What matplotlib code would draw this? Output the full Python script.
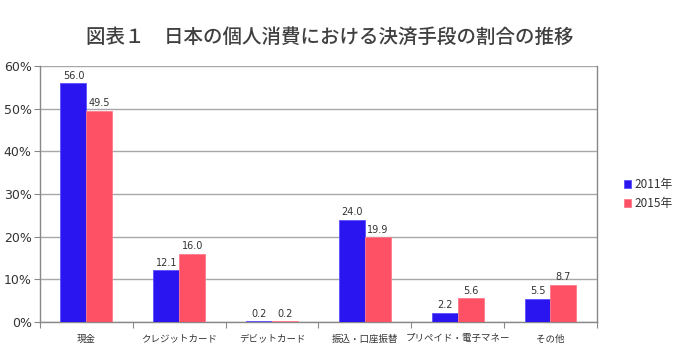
import numpy as np
import matplotlib
matplotlib.use("Agg")
import matplotlib.pyplot as plt

plt.rcParams['font.family'] = ['Noto Sans CJK JP', 'DejaVu Sans']

categories = ['現金', 'クレジットカード', 'デビットカード', '振込・口座振替', 'プリペイド・電子マネー', 'その他']
share_2011 = [56.0, 12.1, 0.2, 24.0, 2.2, 5.5]
share_2015 = [49.5, 16.0, 0.2, 19.9, 5.6, 8.7]
series_names = ['2011年', '2015年']

blue = '#2A14F0'
red = '#FF5166'
text_col = '#333333'

fig = plt.figure(figsize=(6.75, 3.5), dpi=100)
ax = fig.add_axes([0.0593, 0.08, 0.825, 0.731])

x = np.arange(len(categories))
w = 0.28
b1 = ax.bar(x - w / 2, share_2011, w, color=blue, edgecolor='#5A50FF', linewidth=0.6,
            label=series_names[0], zorder=3)
b2 = ax.bar(x + w / 2, share_2015, w, color=red, edgecolor='#FF7A8A', linewidth=0.6,
            label=series_names[1], zorder=3)

# 棒の上に値ラベル
for bars, vals in ((b1, share_2011), (b2, share_2015)):
    for r, v in zip(bars, vals):
        ax.text(r.get_x() + r.get_width() / 2, v + 0.6, f'{v:.1f}', ha='center', va='bottom',
                fontsize=7, color=text_col, family='DejaVu Sans')

ax.set_xlim(-0.5, len(categories) - 0.5)
ax.set_ylim(0, 60)
ax.set_yticks(range(0, 61, 10))
ax.set_yticklabels([f'{t}%' for t in range(0, 61, 10)], fontsize=9, color=text_col,
                   family='DejaVu Sans')
ax.yaxis.grid(True, color='#A8A8A8', linewidth=1.0, zorder=0)

# 区切り目盛りは主目盛り、カテゴリ名は副目盛りに置く
ax.set_xticks(np.arange(len(categories) + 1) - 0.5, minor=False)
ax.set_xticklabels([])
ax.set_xticks(x, minor=True)
ax.set_xticklabels(categories, minor=True, fontsize=6.8, color=text_col)
ax.tick_params(axis='x', which='major', length=4, color='#888888', direction='out')
ax.tick_params(axis='x', which='minor', length=0, pad=9)
ax.tick_params(axis='y', length=4, color='#888888', pad=2)

for side in ['left', 'bottom', 'right', 'top']:
    ax.spines[side].set_color('#888888')
    ax.spines[side].set_linewidth(1.0)
ax.spines['top'].set_visible(False)

ax.legend(loc='center left', bbox_to_anchor=(1.03, 0.5), frameon=False, fontsize=8.5,
          handlelength=0.6, handleheight=0.6, handletextpad=0.3, labelspacing=0.5,
          labelcolor=text_col)

fig.text(0.488, 0.894, '図表１　日本の個人消費における決済手段の割合の推移', ha='center', va='center',
         fontsize=14, color='#404040', fontweight='medium')

fig.savefig('out.png', dpi=100)
